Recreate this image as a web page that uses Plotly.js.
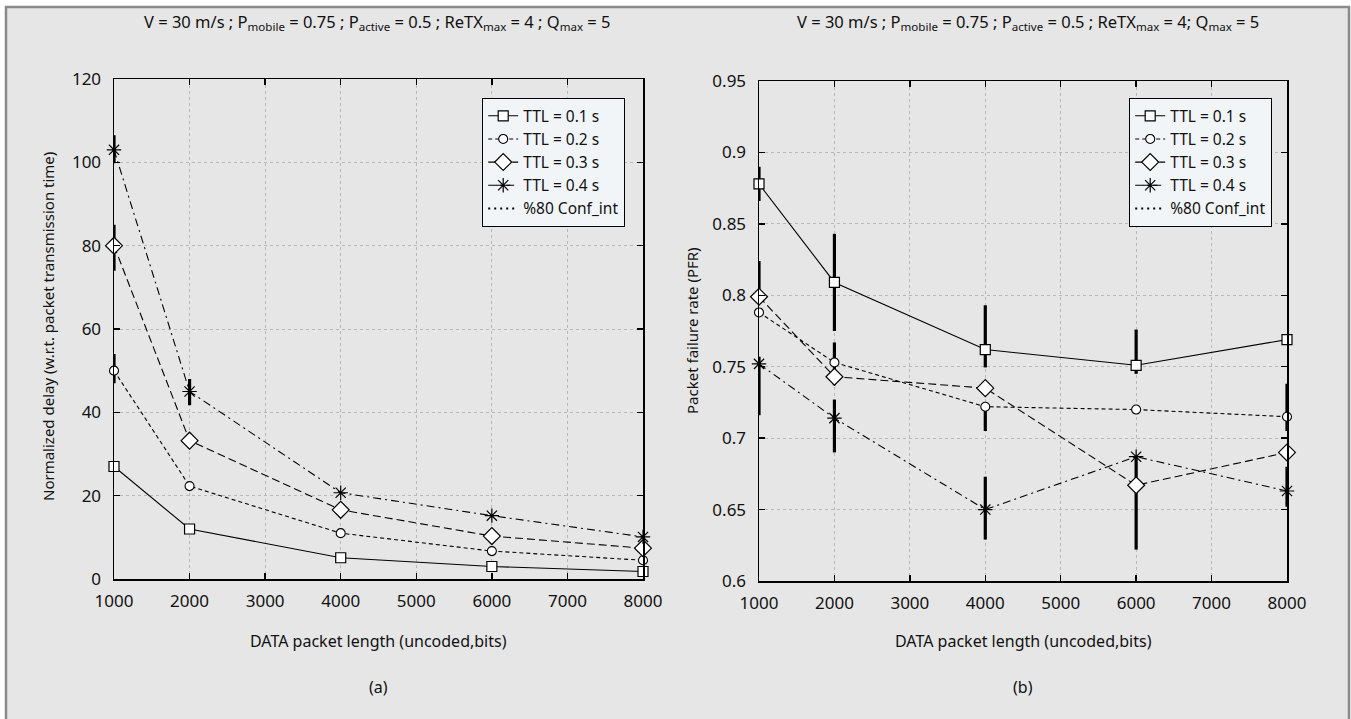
<!DOCTYPE html>
<html>
<head>
<meta charset="utf-8">
<script src="https://cdn.plot.ly/plotly-3.0.1.min.js"></script>
<style>html,body{margin:0;padding:0;background:#fff;}#chart{width:1351px;height:719px;}</style>
</head>
<body>
<div id="chart"></div>
<script>
// ---- data ----
const packetLength = [1000, 2000, 4000, 6000, 8000];
const seriesNames = ['TTL = 0.1 s', 'TTL = 0.2 s', 'TTL = 0.3 s', 'TTL = 0.4 s'];
const confName = '%80 Conf_int';

// (a) normalized delay
const delayTTL01 = [27, 12, 5.1, 3.0, 1.8];
const delayTTL02 = [50, 22.3, 11, 6.7, 4.5];
const delayTTL03 = [80, 33.2, 16.6, 10.3, 7.4];
const delayTTL04 = [103, 45, 20.7, 15.2, 10.1];
const delayErrPlus01 = [0, 0, 0, 0, 0];
const delayErrMinus01 = [0, 0, 0, 0, 0];
const delayErrPlus02 = [4, 0, 0, 0, 0];
const delayErrMinus02 = [3, 0, 0, 0, 0];
const delayErrPlus03 = [5, 0, 0, 0, 0];
const delayErrMinus03 = [6, 0, 0, 0, 0];
const delayErrPlus04 = [3.5, 3, 0, 0, 0];
const delayErrMinus04 = [3.2, 3.3, 0, 0, 0];

// (b) packet failure rate
const pfrTTL01 = [0.878, 0.809, 0.762, 0.751, 0.769];
const pfrTTL02 = [0.788, 0.753, 0.722, 0.720, 0.715];
const pfrTTL03 = [0.799, 0.743, 0.735, 0.667, 0.690];
const pfrTTL04 = [0.752, 0.714, 0.650, 0.687, 0.663];
const pfrErrPlus01 = [0.012, 0.034, 0.031, 0.025, 0];
const pfrErrMinus01 = [0.012, 0.034, 0.0125, 0.006, 0];
const pfrErrPlus02 = [0, 0.014, 0.002, 0, 0.023];
const pfrErrMinus02 = [0, 0.016, 0.017, 0, 0.010];
const pfrErrPlus03 = [0.025, 0, 0, 0.020, 0];
const pfrErrMinus03 = [0.005, 0, 0, 0.045, 0];
const pfrErrPlus04 = [0.005, 0.013, 0.023, 0, 0.017];
const pfrErrMinus04 = [0.036, 0.024, 0.021, 0, 0.011];

// text
const titleA = 'V = 30 m/s ; P<sub>mobile</sub> = 0.75 ; P<sub>active</sub> = 0.5 ; ReTX<sub>max</sub> = 4 ; Q<sub>max</sub> = 5';
const titleB = 'V = 30 m/s ; P<sub>mobile</sub> = 0.75 ; P<sub>active</sub> = 0.5 ; ReTX<sub>max</sub> = 4; Q<sub>max</sub> = 5';
const xTitle = 'DATA packet length (uncoded,bits)';
const yTitleA = 'Normalized delay (w.r.t. packet transmission time)';
const yTitleB = 'Packet failure rate (PFR)';

// ---- styles ----
const FONT = '"Noto Sans", "Open Sans", sans-serif';
const dashes = ['solid', '4px,3px', '8px,4px', '8px,4px,2px,4px'];
const markers = [
  {symbol: 'square', size: 10, color: '#ffffff', line: {color: '#000', width: 1.2}},
  {symbol: 'circle', size: 9, color: '#ffffff', line: {color: '#000', width: 1.1}},
  {symbol: 'diamond', size: 13, color: '#ffffff', line: {color: '#000', width: 1.2}},
  {symbol: 'asterisk-open', size: 12, color: '#000', line: {color: '#000', width: 1.2}}
];

function makeTrace(y, plus, minus, i, xa, ya, lg) {
  return {
    type: 'scatter', mode: 'lines+markers',
    x: packetLength, y: y, name: seriesNames[i],
    xaxis: xa, yaxis: ya, legend: lg,
    line: {color: '#000', width: 1.1, dash: dashes[i]},
    marker: markers[i],
    cliponaxis: false,
    error_y: {type: 'data', symmetric: false, array: plus, arrayminus: minus,
              color: '#000', thickness: 3.2, width: 0}
  };
}
function confTrace(xa, ya, lg) {
  return {type: 'scatter', mode: 'lines', x: [null], y: [null], name: confName,
          xaxis: xa, yaxis: ya, legend: lg,
          line: {color: '#000', width: 2, dash: '2px,4px'}};
}

const data = [
  makeTrace(delayTTL01, delayErrPlus01, delayErrMinus01, 0, 'x', 'y', 'legend'),
  makeTrace(delayTTL02, delayErrPlus02, delayErrMinus02, 1, 'x', 'y', 'legend'),
  makeTrace(delayTTL03, delayErrPlus03, delayErrMinus03, 2, 'x', 'y', 'legend'),
  makeTrace(delayTTL04, delayErrPlus04, delayErrMinus04, 3, 'x', 'y', 'legend'),
  confTrace('x', 'y', 'legend'),
  makeTrace(pfrTTL01, pfrErrPlus01, pfrErrMinus01, 0, 'x2', 'y2', 'legend2'),
  makeTrace(pfrTTL02, pfrErrPlus02, pfrErrMinus02, 1, 'x2', 'y2', 'legend2'),
  makeTrace(pfrTTL03, pfrErrPlus03, pfrErrMinus03, 2, 'x2', 'y2', 'legend2'),
  makeTrace(pfrTTL04, pfrErrPlus04, pfrErrMinus04, 3, 'x2', 'y2', 'legend2'),
  confTrace('x2', 'y2', 'legend2')
];

const W = 1351, H = 719;
const px = v => v / W;
const py = v => (H - v) / H;

function axisBase(isX) {
  return {
    showline: true, linecolor: '#000', linewidth: 1.5, mirror: 'ticks',
    ticks: 'inside', ticklen: 6, tickwidth: 1.3, tickcolor: '#000',
    showgrid: true, gridcolor: '#b8b8b8', griddash: 'dot', gridwidth: 1,
    zeroline: false, tickfont: {family: FONT, size: 17, color: '#111'},
    ticklabelstandoff: isX ? 6 : 8,
    fixedrange: true
  };
}

const legendBase = {
  bgcolor: '#f1f5f8', bordercolor: '#000', borderwidth: 1.2,
  font: {family: FONT, size: 15.5, color: '#111'},
  xanchor: 'right', yanchor: 'top', tracegroupgap: 0, itemwidth: 30
};

function ann(text, x, y, size, angle) {
  return {text: text, xref: 'paper', yref: 'paper', x: px(x), y: py(y), showarrow: false,
          xanchor: 'center', yanchor: 'middle', textangle: angle || 0,
          font: {family: FONT, size: size, color: '#111'}};
}

const layout = {
  width: W, height: H,
  margin: {l: 0, r: 0, t: 0, b: 0},
  paper_bgcolor: '#ffffff', plot_bgcolor: '#e3ecf2',
  font: {family: FONT, size: 14, color: '#111'},
  xaxis: Object.assign(axisBase(true), {domain: [px(114), px(643)], range: [1000, 8000], dtick: 1000, anchor: 'y'}),
  yaxis: Object.assign(axisBase(false), {domain: [py(579), py(79)], range: [0, 120], dtick: 20, anchor: 'x'}),
  xaxis2: Object.assign(axisBase(true), {domain: [px(759), px(1287)], range: [1000, 8000], dtick: 1000, anchor: 'y2'}),
  yaxis2: Object.assign(axisBase(false), {domain: [py(581), py(81)], range: [0.6, 0.95], dtick: 0.05, anchor: 'x2'}),
  legend: Object.assign({}, legendBase, {x: px(625), y: py(98)}),
  legend2: Object.assign({}, legendBase, {x: px(1272), y: py(98)}),
  showlegend: true,
  shapes: [
    {type: 'rect', xref: 'paper', yref: 'paper', x0: px(6), x1: px(1349), y0: -0.02, y1: py(7),
     fillcolor: '#e6e6e6', line: {color: '#8a8a8a', width: 2.5}, layer: 'below'}
  ],
  annotations: [
    ann(titleA, 377, 22, 16.5),
    ann(titleB, 1028, 22, 16.5),
    ann(xTitle, 378, 641, 16),
    ann(xTitle, 1023, 641, 16),
    ann(yTitleA, 48, 327, 15, -90),
    ann(yTitleB, 692, 331, 15, -90),
    ann('(a)', 378, 687, 16),
    ann('(b)', 1023, 687, 16)
  ]
};

Plotly.newPlot('chart', data, layout, {displayModeBar: false, staticPlot: true});
</script>
</body>
</html>
